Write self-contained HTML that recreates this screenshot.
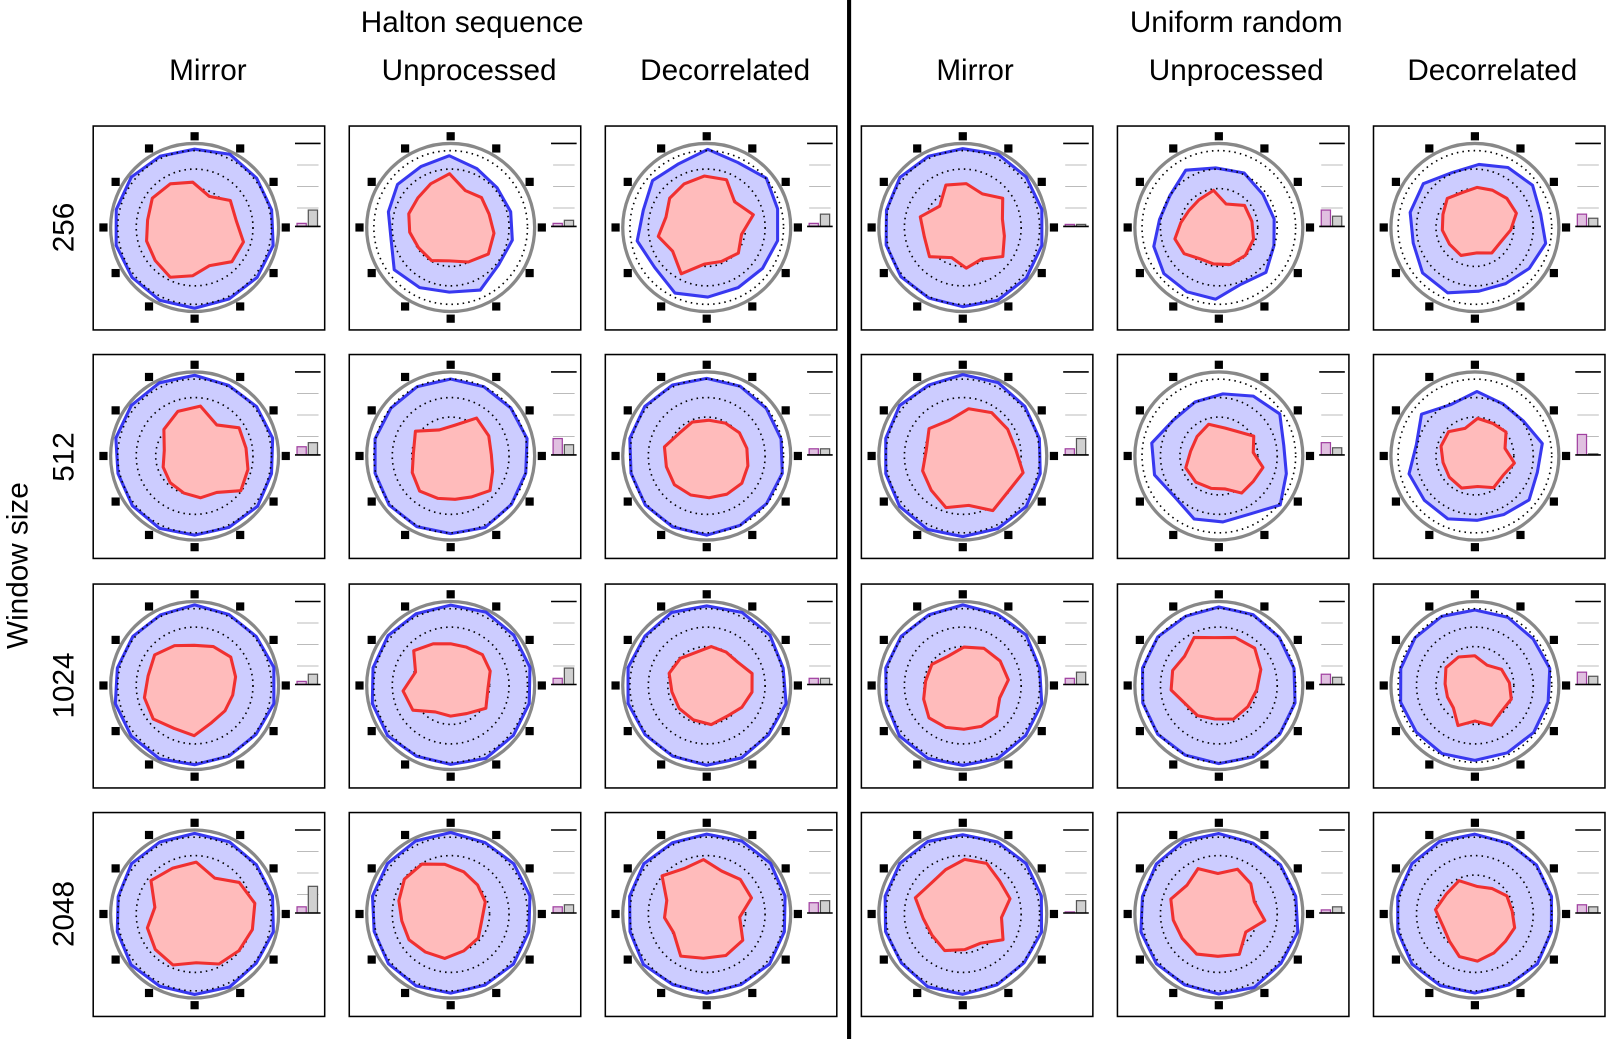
<!DOCTYPE html>
<html><head><meta charset="utf-8"><style>
html,body{margin:0;padding:0;background:#fff;width:1606px;height:1039px;overflow:hidden}
svg{display:block}
text{font-family:"Liberation Sans",sans-serif;font-size:29px;fill:#000}
</style></head><body>
<svg id="s" width="1606" height="1039" viewBox="0 0 1568 1014" preserveAspectRatio="none" xmlns="http://www.w3.org/2000/svg">
<text x="461" y="31" text-anchor="middle">Halton sequence</text>
<text x="1207" y="31" text-anchor="middle">Uniform random</text>
<text x="203" y="78" text-anchor="middle">Mirror</text>
<text x="458" y="78" text-anchor="middle">Unprocessed</text>
<text x="708" y="78" text-anchor="middle">Decorrelated</text>
<text x="952" y="78" text-anchor="middle">Mirror</text>
<text x="1207" y="78" text-anchor="middle">Unprocessed</text>
<text x="1457" y="78" text-anchor="middle">Decorrelated</text>
<text transform="translate(72,222) rotate(-90)" text-anchor="middle">256</text>
<text transform="translate(72,446) rotate(-90)" text-anchor="middle">512</text>
<text transform="translate(72,669) rotate(-90)" text-anchor="middle">1024</text>
<text transform="translate(72,892) rotate(-90)" text-anchor="middle">2048</text>
<text transform="translate(27,552) rotate(-90)" text-anchor="middle">Window size</text>
<line x1="829" y1="0" x2="829" y2="1014" stroke="#000" stroke-width="4"/>
<g id="cells"></g>
</svg>
<script>
var seed=7;function rnd(){seed=(seed*16807)%2147483647;return (seed-1)/2147483646;}
var xs=[91,341,591,841,1091,1341],ys=[123,346,570,793];
var blueR=[[78,64,68,78,62,64],[78,76,76,78,66,64],[78,78,78,78,76,74],[78,78,78,78,78,78]];
var redR=[[44,42,44,40,34,34],[44,42,38,48,34,32],[46,42,36,40,44,32],[50,44,44,42,42,36]];
var bars=[[[3,16],[3,6],[3,12],[2,2],[16,10],[12,8]],[[8,12],[16,10],[6,6],[6,16],[12,7],[20,1]],[[3,10],[6,16],[6,6],[6,12],[10,7],[12,8]],[[6,26],[6,8],[10,12],[1,12],[3,6],[8,6]]];
var out="";
function poly(cx,cy,n,base,jit,s){var p=[];for(var i=0;i<n;i++){var a=i/n*2*Math.PI;var r=base*(1+jit*(rnd()*2-1));p.push((cx+r*Math.sin(a)+ (s?s[0]:0)).toFixed(1)+","+(cy-r*Math.cos(a)+(s?s[1]:0)).toFixed(1));}return p.join(" ");}
for(var r=0;r<4;r++)for(var c=0;c<6;c++){
 var x=xs[c],y=ys[r],cx=x+99,cy=y+99;
 out+='<rect x="'+x+'" y="'+y+'" width="226" height="199" fill="#fff" stroke="#000" stroke-width="1.5"/>';
 for(var k=0;k<12;k++){var a=k*Math.PI/6;out+='<rect x="'+(cx+89*Math.sin(a)-4).toFixed(1)+'" y="'+(cy-89*Math.cos(a)-4).toFixed(1)+'" width="8" height="8" fill="#000"/>';}
 out+='<circle cx="'+cx+'" cy="'+cy+'" r="82" fill="none" stroke="#888" stroke-width="3.2"/>';
 var br=blueR[r][c];
 var sh=br<70?[(rnd()-0.5)*10,(rnd()-0.5)*10]:[0,0];
 out+='<polygon points="'+poly(cx,cy,14,br,br<70?0.1:0.02,sh)+'" fill="#ccccff" stroke="#3838f0" stroke-width="3" stroke-linejoin="round"/>';
 [75,57,38].forEach(function(rr){out+='<circle cx="'+cx+'" cy="'+cy+'" r="'+rr+'" fill="none" stroke="#000" stroke-width="1.6" stroke-dasharray="1.5 4"/>';});
 var rs=[(rnd()-0.5)*14,(rnd()-0.5)*14];
 out+='<polygon points="'+poly(cx,cy,14,redR[r][c],0.18,rs)+'" fill="#ffbbbb" stroke="#f03030" stroke-width="3" stroke-linejoin="round"/>';
 var lx=x+197;
 out+='<line x1="'+lx+'" y1="'+(y+17)+'" x2="'+(lx+25)+'" y2="'+(y+17)+'" stroke="#000" stroke-width="1.5"/>';
 [38,59,80].forEach(function(d){out+='<line x1="'+(lx+2)+'" y1="'+(y+d)+'" x2="'+(lx+23)+'" y2="'+(y+d)+'" stroke="#bbb" stroke-width="1"/>';});
 var b=bars[r][c];
 out+='<rect x="'+(lx+2)+'" y="'+(y+98-b[0])+'" width="9" height="'+b[0]+'" fill="#e0c0e0" stroke="#a040a0" stroke-width="1.2"/>';
 out+='<rect x="'+(lx+13)+'" y="'+(y+98-b[1])+'" width="9" height="'+b[1]+'" fill="#d0d0d0" stroke="#555" stroke-width="1.2"/>';
 out+='<line x1="'+lx+'" y1="'+(y+98)+'" x2="'+(lx+25)+'" y2="'+(y+98)+'" stroke="#000" stroke-width="1.5"/>';
}
document.getElementById("cells").innerHTML=out;
</script>
</body></html>
